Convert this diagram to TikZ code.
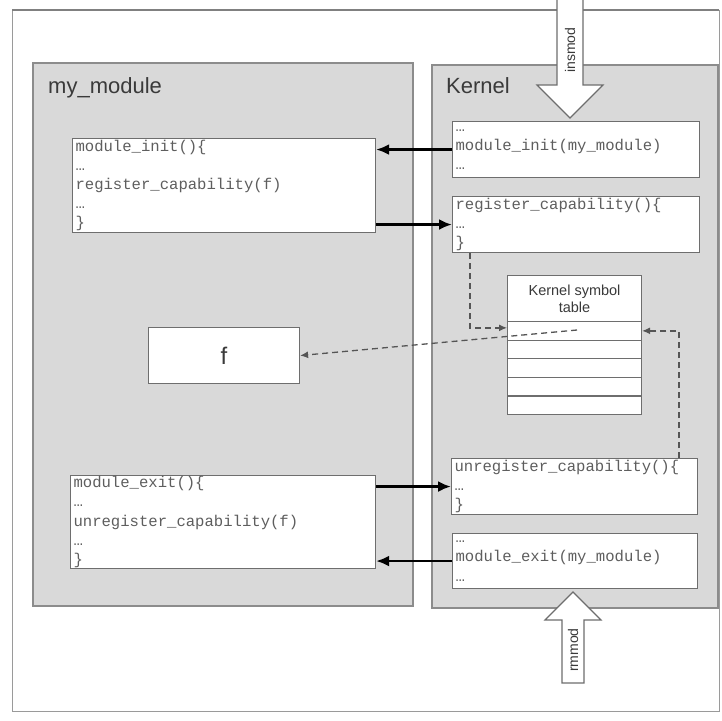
\documentclass[tikz,border=0pt]{standalone}
\usepackage{fontspec}
\setmainfont{Liberation Sans}
\newfontfamily\codefont{Liberation Mono}
\usetikzlibrary{arrows.meta}
\definecolor{panelfill}{HTML}{D9D9D9}
\definecolor{panelborder}{HTML}{8C8C8C}
\definecolor{boxborder}{HTML}{6E6E6E}
\definecolor{codegray}{HTML}{5E5E5E}
\definecolor{labelcol}{HTML}{3A3A3A}
\definecolor{dashcol}{HTML}{555555}
\definecolor{framecol}{HTML}{9A9A9A}
\tikzset{
  panel/.style={draw=panelborder, fill=panelfill, line width=1.3pt},
  paneltitle/.style={anchor=base west, text=labelcol, font=\fontsize{22}{26}\selectfont, inner sep=0pt},
  codebox/.style={draw=boxborder, fill=white, line width=1.1pt, anchor=north west,
    inner xsep=3pt, inner ysep=0pt, align=left, text=codegray,
    font=\codefont\fontsize{15.6}{19.2}\selectfont},
  symcell/.style={draw=boxborder, fill=white, line width=1.1pt, anchor=north west,
    inner sep=0pt, minimum width=134pt},
  fbox/.style={draw=boxborder, fill=white, line width=1.1pt, anchor=north west,
    inner sep=0pt, minimum width=151pt, minimum height=56pt, text=labelcol,
    font=\fontsize{24}{28}\selectfont},
  bigarrow/.style={line width=2.6pt, -{Latex[length=13pt,width=11pt]}},
  dasharrow/.style={draw=dashcol, line width=1.3pt, dash pattern=on 6pt off 4pt,
    -{Latex[length=8pt,width=7pt]}},
  blockarrow/.style={draw=boxborder, fill=white, line width=1.1pt, line join=miter},
  arrowtext/.style={rotate=90, text=labelcol, font=\fontsize{14}{16}\selectfont, inner sep=0pt}
}
\begin{document}
\begin{tikzpicture}[x=1pt,y=-1pt]
\useasboundingbox (0,0) rectangle (722,720);
\fill[white] (0,0) rectangle (722,720);
% outer frame
\draw[framecol, line width=1pt] (12,10) rectangle (719,711);
\draw[gray, line width=2pt] (12,10) -- (719,10);
% panels
\draw[panel] (33,63) rectangle (413,606);
\draw[panel] (432,65) rectangle (718,608);
\node[paneltitle] (tmod) at (48,93) {my\_module};
\node[paneltitle] (tker) at (446,93) {Kernel};
% module boxes
\node[codebox, text width=297pt, minimum height=94pt] (minit) at (72,138)
  {module\_init()\{\\…\\register\_capability(f)\\…\\\}};
\node[codebox, text width=299pt, minimum height=93pt] (mexit) at (70,475)
  {module\_exit()\{\\…\\unregister\_capability(f)\\…\\\}};
\node[fbox] (f) at (148,327) {f};
% kernel boxes
\node[codebox, text width=241pt, minimum height=56pt] (kinit) at (452,121)
  {…\\module\_init(my\_module)\\…};
\node[codebox, text width=241pt, minimum height=56pt] (reg) at (452,196)
  {register\_capability()\{\\…\\\}};
\node[codebox, text width=240pt, minimum height=56pt] (unreg) at (451,458)
  {unregister\_capability()\{\\…\\\}};
\node[codebox, text width=239pt, minimum height=55pt] (kexit) at (452,533)
  {…\\module\_exit(my\_module)\\…};
% symbol table
\node[symcell, minimum height=46pt, align=center, text=labelcol,
  font=\fontsize{14.5}{17}\selectfont] (symhead) at (507,275) {Kernel symbol\\table};
\node[symcell, minimum height=18.6pt] (row1) at (507,321) {};
\node[symcell, minimum height=18.6pt] (row2) at (507,339.6) {};
\node[symcell, minimum height=18.6pt] (row3) at (507,358.2) {};
\node[symcell, minimum height=18.6pt] (row4) at (507,376.8) {};
\node[symcell, minimum height=18.6pt] (row5) at (507,395.4) {};
\coordinate (symsrc) at (577,330);
% block arrows
\draw[blockarrow] (557,-4) -- (557,85) -- (537,85) -- (570,118) -- (603,85) -- (583,85) -- (583,-4);
\node[arrowtext] (insmod) at (570,50) {insmod};
\draw[blockarrow] (562,683) -- (562,620) -- (545,620) -- (573,592) -- (601,620) -- (584,620) -- (584,683) -- cycle;
\node[arrowtext] (rmmod) at (573,650) {rmmod};
% solid connectors
\draw[bigarrow] (kinit.west) -- (minit.east |- kinit.west);
\draw[bigarrow] (minit.east |- reg.west) -- (reg.west);
\draw[bigarrow] (mexit.east |- unreg.west) -- (unreg.west);
\draw[bigarrow] (kexit.west) -- (mexit.east |- kexit.west);
% dashed connectors
\draw[dasharrow] ([xshift=18pt]reg.south west) |- ([yshift=3pt]row1.west);
\draw[dasharrow] ([xshift=-19pt]unreg.north east) |- (row1.east);
\draw[dasharrow] (symsrc) -- (f.east);
\end{tikzpicture}
\end{document}
